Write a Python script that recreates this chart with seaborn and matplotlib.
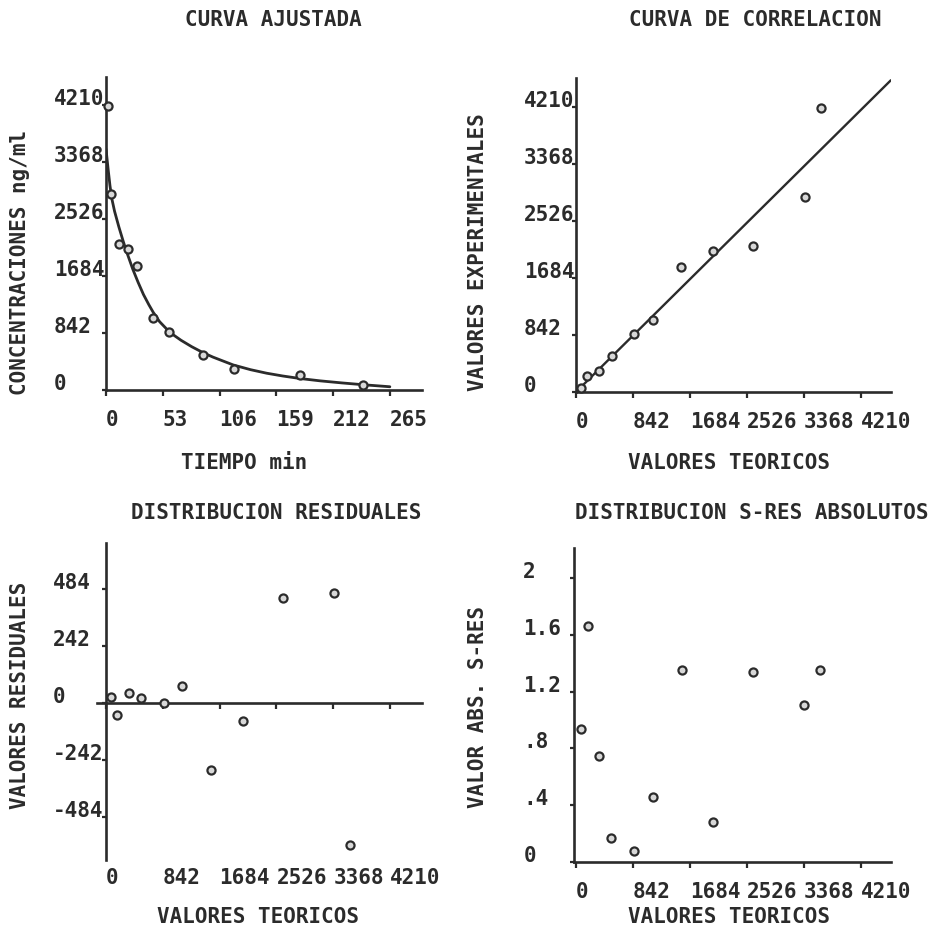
import matplotlib
matplotlib.use('Agg')
import matplotlib.pyplot as plt
import seaborn as sns

W, H = 932, 935
TINTA = '#2b2b2b'
FS = 15

# --- datos ---
# curva ajustada: puntos experimentales
tiempo = [1.5, 4.5, 12, 20.5, 29, 44, 59, 90.5, 119.5, 181, 240]
concentracion = [4190, 2900, 2150, 2090, 1825, 1060, 855, 515, 305, 228, 72]

# curva ajustada: trazo leido punto a punto
curva_t = [0, 2, 3.7, 5.5, 8, 12, 16, 19.3, 25, 30, 35, 40, 44, 50, 59.7, 70, 80,
           90.8, 100, 118.8, 135, 150, 165, 181, 200, 220, 240, 265]
curva_c = [3560, 3260, 3020, 2822, 2640, 2410, 2200, 2040, 1785, 1590, 1410, 1260,
           1150, 1010, 850, 735, 640, 550, 485, 370, 300, 248, 207, 170, 135, 105, 78, 48]

# valores teoricos (mismo orden que concentracion)
teoricos = [3616, 3377, 2620, 2028, 1558, 1132, 855, 526, 344, 168, 70]
experimentales = [4186, 2881, 2157, 2083, 1838, 1069, 852, 527, 316, 236, 55]
recta_x = [0, 4650]
recta_y = [0, 4600]

# residuales y s-res absolutos
residuales = [-606, 464, 443, -76, -286, 72, -3, 19, 42, -52, 25]
sres_x = [3610, 3373, 2610, 2019, 1566, 1132, 852, 517, 344, 172, 74]
sres_abs = [1.35, 1.11, 1.34, 0.28, 1.35, 0.46, 0.075, 0.17, 0.75, 1.66, 0.94]

# ticks
t_ticks = [0, 53, 106, 159, 212, 265]
t_labels = ['0', '53', '106', '159', '212', '265']
c_ticks = [0, 842, 1684, 2526, 3368, 4210]
c_labels = ['0', '842', '1684', '2526', '3368', '4210']
r_ticks = [484, 242, 0, -242, -484]
r_labels = ['484', '242', '0', '-242', '-484']
s_ticks = [0, 0.4, 0.8, 1.2, 1.6, 2]
s_labels = ['0', '.4', '.8', '1.2', '1.6', '2']

sns.set_theme(style='ticks')
plt.rcParams['font.family'] = ['DejaVu Sans Mono']
plt.rcParams['font.weight'] = 'bold'
plt.rcParams['font.size'] = FS
plt.rcParams['text.color'] = TINTA
plt.rcParams['xtick.color'] = TINTA
plt.rcParams['ytick.color'] = TINTA

fig = plt.figure(figsize=(W / 100, H / 100), dpi=100)
fig.patch.set_facecolor('white')


def caja(izq, der, arriba, abajo):
    # posicion de ejes en pixeles de la imagen
    return fig.add_axes([izq / W, 1 - abajo / H, (der - izq) / W, (abajo - arriba) / H])


def texto(x, y, s, rot=0):
    fig.text(x / W, 1 - y / H, s, ha='center', va='center', rotation=rot,
             fontsize=FS, fontweight='bold', color=TINTA)


def estilo(ax, xt, xl, yt, yl, xlim, ylim, ypad, xlabels=True):
    ax.set_facecolor('white')
    ax.set_xlim(xlim)
    ax.set_ylim(ylim)
    ax.set_xticks(xt, xl)
    ax.set_yticks(yt, yl)
    for s in ['top', 'right']:
        ax.spines[s].set_visible(False)
    for s in ['left', 'bottom']:
        ax.spines[s].set_linewidth(1.9)
        ax.spines[s].set_color(TINTA)
    ax.tick_params(axis='x', direction='out', length=4.5, width=1.6, pad=10, labelsize=FS,
                   labelbottom=xlabels)
    ax.tick_params(axis='y', direction='out', length=3, width=1.6, pad=ypad, labelsize=FS)
    for lab in ax.get_xticklabels():
        lab.set_horizontalalignment('left')
    for lab in ax.get_yticklabels():
        lab.set_horizontalalignment('left')
        lab.set_verticalalignment('baseline')
    ax.set_xlabel('')
    ax.set_ylabel('')


def puntos(ax, x, y):
    sns.scatterplot(x=x, y=y, ax=ax, marker='o', s=34, color='#d8d8d8',
                    edgecolor=TINTA, linewidth=1.6, zorder=4, clip_on=False)


# 1. curva ajustada
ax1 = caja(106, 422, 77, 390)
sns.lineplot(x=curva_t, y=curva_c, ax=ax1, sort=False, estimator=None,
             color=TINTA, linewidth=2.0, zorder=3)
puntos(ax1, tiempo, concentracion)
estilo(ax1, t_ticks, t_labels, c_ticks, c_labels, (0, 295), (0, 4624), 34.5)

# 2. curva de correlacion
ax2 = caja(576, 891, 78, 392)
sns.lineplot(x=recta_x, y=recta_y, ax=ax2, sort=False, estimator=None,
             color=TINTA, linewidth=1.7, zorder=3)
puntos(ax2, teoricos, experimentales)
estilo(ax2, c_ticks, c_labels, c_ticks, c_labels, (0, 4653), (0, 4634), 34.5)

# 3. distribucion residuales (ejes cruzando en cero)
ax3 = caja(97, 422, 543, 860)
ax3.spines['left'].set_position(('data', 0))
ax3.spines['bottom'].set_position(('data', 0))
puntos(ax3, teoricos, residuales)
estilo(ax3, c_ticks, c_labels, r_ticks, r_labels, (-133, 4684), (-668, 678), 35.5,
       xlabels=False)
sec = ax3.secondary_xaxis('bottom')
sec.set_xticks(c_ticks, c_labels)
sec.tick_params(length=0, pad=6, labelsize=FS, colors=TINTA)
for sp in sec.spines.values():
    sp.set_visible(False)
for lab in sec.get_xticklabels():
    lab.set_horizontalalignment('left')
    lab.set_fontweight('bold')

# 4. distribucion s-res absolutos
ax4 = caja(574, 891, 548, 862)
puntos(ax4, sres_x, sres_abs)
estilo(ax4, c_ticks, c_labels, s_ticks, s_labels, (-30, 4653), (0, 2.213), 33.5)

# titulos y rotulos
texto(273, 20, 'CURVA AJUSTADA')
texto(755, 20, 'CURVA DE CORRELACION')
texto(276, 513, 'DISTRIBUCION RESIDUALES')
texto(752, 513, 'DISTRIBUCION S-RES ABSOLUTOS')
texto(244, 463, 'TIEMPO min')
texto(729, 463, 'VALORES TEORICOS')
texto(258, 917, 'VALORES TEORICOS')
texto(729, 917, 'VALORES TEORICOS')
texto(20, 262, 'CONCENTRACIONES ng/ml', 90)
texto(478, 252, 'VALORES EXPERIMENTALES', 90)
texto(20, 695, 'VALORES RESIDUALES', 90)
texto(478, 707, 'VALOR ABS. S-RES', 90)

fig.savefig('out.png', dpi=100, facecolor='white')
